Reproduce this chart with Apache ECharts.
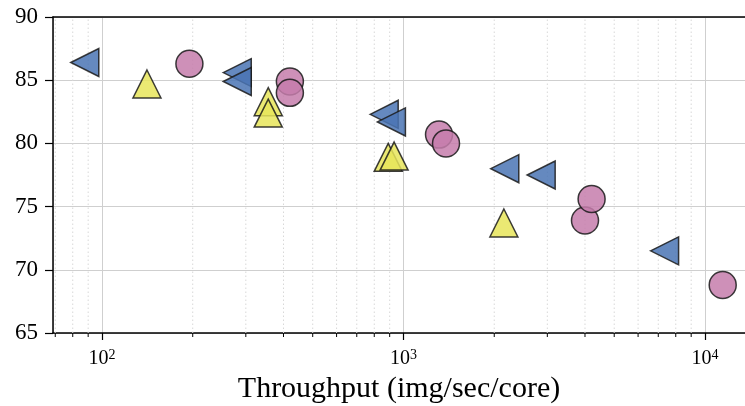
<!DOCTYPE html>
<html>
<head>
<meta charset="utf-8">
<script src="https://cdn.jsdelivr.net/npm/echarts@6/dist/echarts.min.js"></script>
<style>
html,body{margin:0;padding:0;background:#fff;}
#chart{width:745px;height:406px;}
</style>
</head>
<body>
<div id="chart"></div>
<script>
// values
var blueX = [87.7, 281, 281, 863, 912, 2168, 2862, 7346];
var blueY = [86.4, 85.6, 84.9, 82.3, 81.7, 78.0, 77.5, 71.5];
var yellowX = [141, 356, 356, 890, 931, 2153];
var yellowY = [84.7, 83.3, 82.4, 78.9, 79.0, 73.7];
var pinkX = [195, 420, 420, 1312, 1384, 4000, 4207, 11450];
var pinkY = [86.3, 84.9, 84.0, 80.7, 80.0, 73.9, 75.6, 68.8];
var yTicks = [65, 70, 75, 80, 85, 90];
var xMin = 68.8, xMax = 13575;

function pairs(xs, ys){
	var out = [];
	for(var i=0;i<xs.length;i++) out.push([xs[i], ys[i]]);
	return out;
}

// minor log ticks 2..9 x 10^n inside the axis range
var minorX = [];
for(var d=10; d<=10000; d*=10){
	for(var k=2;k<=9;k++){
		var v = k*d;
		if(v>xMin && v<xMax) minorX.push([v]);
	}
}

var serif = 'Liberation Serif';
var edge = {borderColor:'#1a1a1a', borderWidth:1.5, opacity:0.85};

function drawMinor(params, api){
	var v = api.value(0);
	var lo = api.coord([v, yTicks[0]]);
	var hi = api.coord([v, yTicks[yTicks.length-1]]);
	return {
		type:'group',
		children:[{
			type:'line',
			shape:{x1:lo[0], y1:lo[1], x2:hi[0], y2:hi[1]},
			style:{stroke:'#d8d8d8', lineWidth:1, lineDash:[1.5,2.5]}
		},{
			type:'line',
			shape:{x1:lo[0], y1:lo[1], x2:lo[0], y2:lo[1]+4},
			style:{stroke:'#000', lineWidth:1}
		}]
	};
}

var myChart = echarts.init(document.getElementById('chart'), null, {renderer:'canvas'});
var option = {
	backgroundColor:'#fff',
	animation:false,
	grid:{left:53, right:0, top:17, bottom:73, outerBoundsMode:'none'},
	xAxis:[{
		type:'log', logBase:10, min:xMin, max:xMax,
		name:'Throughput (img/sec/core)', nameLocation:'middle', nameGap:40,
		nameTextStyle:{fontFamily:serif, fontSize:30, color:'#000'},
		axisLine:{lineStyle:{color:'#000', width:1.5}},
		axisTick:{show:true, length:7, lineStyle:{color:'#000', width:1.2}},
		splitLine:{show:true, lineStyle:{color:'#cfcfcf', width:1}},
		axisLabel:{
			margin:15, showMinLabel:false, showMaxLabel:false,
			formatter:function(v){
				var e = Math.round(Math.log(v)/Math.LN10);
				if(Math.abs(Math.pow(10,e)-v) > 1e-6*v) return '';
				return '{b|10}{s|' + e + '}';
			},
			rich:{
				b:{fontFamily:serif, fontSize:20, color:'#000'},
				s:{fontFamily:serif, fontSize:14, color:'#000', verticalAlign:'top', padding:[0,0,8,0]}
			}
		}
	},{
		type:'value', position:'top', min:0, max:1,
		axisLine:{show:true, onZero:false, lineStyle:{color:'#000', width:1.5}},
		axisTick:{show:false}, axisLabel:{show:false}, splitLine:{show:false}
	}],
	yAxis:{
		type:'value', min:yTicks[0], max:yTicks[yTicks.length-1], interval:5,
		axisLine:{show:true, lineStyle:{color:'#000', width:1.5}},
		axisTick:{show:true, length:8, lineStyle:{color:'#000', width:1.2}},
		splitLine:{show:true, lineStyle:{color:'#cfcfcf', width:1}},
		axisLabel:{fontFamily:serif, fontSize:23, color:'#000', margin:15}
	},
	series:[{
		type:'custom', name:'minor', data:minorX, renderItem:drawMinor,
		clip:false, silent:true, z:1,
		encode:{x:0}
	},{
		type:'scatter', name:'blue', data:pairs(blueX, blueY),
		symbol:'triangle', symbolRotate:90, symbolSize:28, z:3,
		itemStyle:Object.assign({color:'#4a74b4'}, edge)
	},{
		type:'scatter', name:'yellow', data:pairs(yellowX, yellowY),
		symbol:'triangle', symbolSize:28, z:3,
		itemStyle:Object.assign({color:'#e8e55a'}, edge)
	},{
		type:'scatter', name:'pink', data:pairs(pinkX, pinkY),
		symbol:'circle', symbolSize:27, z:3,
		itemStyle:Object.assign({color:'#c67cab'}, edge)
	}]
};
myChart.setOption(option);
</script>
</body>
</html>
